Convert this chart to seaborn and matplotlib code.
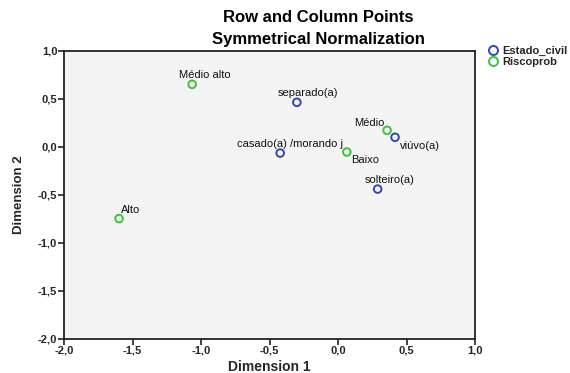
import numpy as np
import pandas as pd
import matplotlib
matplotlib.use("Agg")
import matplotlib.pyplot as plt
from matplotlib.lines import Line2D
from matplotlib.ticker import FuncFormatter, MultipleLocator
import seaborn as sns

# coordenadas (Dimension 1, Dimension 2)
labels = ["Médio alto", "separado(a)", "Médio", "viúvo(a)",
          "casado(a) /morando j", "Baixo", "solteiro(a)", "Alto"]
dim1 = [-1.066, -0.301, 0.358, 0.416, -0.423, 0.064, 0.289, -1.600]
dim2 = [0.650, 0.463, 0.172, 0.099, -0.065, -0.054, -0.440, -0.747]
grupo = ["Riscoprob", "Estado_civil", "Riscoprob", "Estado_civil",
         "Estado_civil", "Riscoprob", "Estado_civil", "Riscoprob"]

cores = {"Estado_civil": "#3346B8", "Riscoprob": "#3CC43C"}

# deslocamento dos rotulos em pixels (dx, dy, ha)
desloc = {
    "Médio alto": (-13, 9, "left"),
    "separado(a)": (-19, 9, "left"),
    "Médio": (-3, 7, "right"),
    "viúvo(a)": (5, -9, "left"),
    "casado(a) /morando j": (-43, 9, "left"),
    "Baixo": (4, -8, "left"),
    "solteiro(a)": (-13, 9, "left"),
    "Alto": (2, 9, "left"),
}

df = pd.DataFrame({"label": labels, "dim1": dim1, "dim2": dim2, "grupo": grupo})

sns.set_theme(style="white")
plt.rcParams["font.family"] = ["Liberation Sans", "DejaVu Sans"]

fig = plt.figure(figsize=(5.7, 3.73), dpi=100)
ax = fig.add_axes([0.1128, 0.0912, 0.7205, 0.7728])
ax.set_facecolor("#F4F4F4")

sns.scatterplot(data=df, x="dim1", y="dim2", hue="grupo", palette=cores,
                s=30, linewidth=1.4, legend=False, ax=ax, zorder=3)
pts = ax.collections[0]
fc = pts.get_facecolors()
pts.set_edgecolors(fc)
pts.set_facecolors("none")

for lab, x, y in zip(labels, dim1, dim2):
    dx, dy, ha = desloc[lab]
    ax.annotate(lab, (x, y), xytext=(dx, dy), textcoords="offset pixels",
                ha=ha, va="center", fontsize=8, color="#111111")

ax.set_xlim(-2.0, 1.0)
ax.set_ylim(-2.0, 1.0)
ax.xaxis.set_major_locator(MultipleLocator(0.5))
ax.yaxis.set_major_locator(MultipleLocator(0.5))
fmt = FuncFormatter(lambda v, p: f"{v:.1f}".replace(".", ","))
ax.xaxis.set_major_formatter(fmt)
ax.yaxis.set_major_formatter(fmt)
ax.tick_params(direction="out", length=4, width=1.2, color="#222222",
               labelsize=8, pad=1, bottom=True, left=True)
for t in ax.get_xticklabels() + ax.get_yticklabels():
    t.set_fontweight("bold")
for sp in ax.spines.values():
    sp.set_color("#222222")
    sp.set_linewidth(1.3)

ax.set_xlabel("Dimension 1", fontsize=10, fontweight="bold", labelpad=3)
ax.set_ylabel("Dimension 2", fontsize=9.5, fontweight="bold", labelpad=9)

fig.text(0.558, 0.952, "Row and Column Points", ha="center", va="center",
         fontsize=12, fontweight="bold", color="black")
fig.text(0.558, 0.893, "Symmetrical Normalization", ha="center", va="center",
         fontsize=12, fontweight="bold", color="black")

handles = [Line2D([], [], marker="o", linestyle="none", markersize=6.5,
                  markerfacecolor="none", markeredgecolor=cores[g],
                  markeredgewidth=1.4, label=g) for g in cores]
leg = fig.legend(handles=handles, loc="upper left", bbox_to_anchor=(0.857, 0.877),
                 frameon=False, handlelength=0.8, handletextpad=0.45,
                 labelspacing=0.05, borderpad=0, borderaxespad=0,
                 prop={"size": 8, "weight": "bold"})

fig.savefig("out.png", dpi=100)
